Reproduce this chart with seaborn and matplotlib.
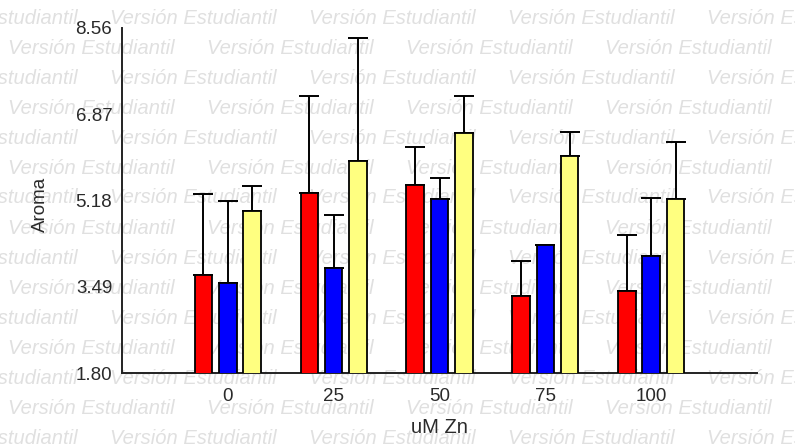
import numpy as np
import pandas as pd
import matplotlib
matplotlib.use("Agg")
import matplotlib.pyplot as plt
import seaborn as sns

# Data
doses = ["0", "25", "50", "75", "100"]
series = ["S1", "S2", "S3"]
red_mean = [3.73, 5.33, 5.49, 3.30, 3.40]
red_err = [1.57, 1.90, 0.74, 0.70, 1.11]
blue_mean = [3.57, 3.86, 5.21, 4.30, 4.10]
blue_err = [1.60, 1.03, 0.41, 0.0, 1.12]
yellow_mean = [4.97, 5.95, 6.51, 6.05, 5.20]
yellow_err = [0.49, 2.41, 0.72, 0.47, 1.12]
yticks = [1.80, 3.49, 5.18, 6.87, 8.56]

colors = ["#ff0000", "#0000ff", "#ffff80"]
means = [red_mean, blue_mean, yellow_mean]
errs = [red_err, blue_err, yellow_err]

df = pd.DataFrame({
    "dose": doses * 3,
    "serie": np.repeat(series, len(doses)),
    "value": red_mean + blue_mean + yellow_mean,
})

sns.set_style("white")
plt.rcParams["font.family"] = ["Liberation Sans", "DejaVu Sans"]

fig = plt.figure(figsize=(7.95, 4.46), dpi=100)
fig.patch.set_facecolor("white")

# watermark rows
wm = "Versión Estudiantil"
for r in range(16):
    y_px = 18 + 30 * r
    x0 = 110 if r % 2 == 0 else 8
    for k in range(-1, 5):
        fig.text((x0 + 199 * k) / 795, 1 - y_px / 446, wm, fontsize=14.5,
                 style="italic", color="#e0e0e0", ha="left", va="center",
                 zorder=-1)

ax = fig.add_axes([122 / 795, 1 - 373 / 446, (757 - 122) / 795, (373 - 28) / 446])
ax.set_facecolor("none")

sns.barplot(data=df, x="dose", y="value", hue="serie", palette=colors,
            saturation=1, order=doses, hue_order=series, errorbar=None,
            width=0.69, gap=0.28, edgecolor="black", linewidth=1.3,
            legend=False, ax=ax, zorder=3)

for cont, m, e in zip(ax.containers, means, errs):
    xs = [b.get_x() + b.get_width() / 2 for b in cont]
    ax.errorbar(xs, m, yerr=[np.zeros(len(e)), e], fmt="none", ecolor="black",
                elinewidth=1.4, capsize=7, capthick=1.4, zorder=2)

ax.set_xlim(-1, 5)
ax.set_ylim(yticks[0], yticks[-1])
ax.set_yticks(yticks)
ax.set_yticklabels([f"{t:.2f}" for t in yticks])
sns.despine(ax=ax)
for s in ["left", "bottom"]:
    ax.spines[s].set_linewidth(1.4)
    ax.spines[s].set_color("#222222")
ax.tick_params(axis="both", direction="out", length=5, width=1.4,
               color="#222222", labelsize=13.5, labelcolor="#2a2a2a")
ax.tick_params(axis="y", pad=2)
ax.tick_params(axis="x", pad=6)
ax.set_xlabel("uM Zn", fontsize=14.5, color="#2a2a2a", labelpad=9)
ax.set_ylabel("Aroma", fontsize=13.5, color="#2a2a2a")
ax.yaxis.set_label_coords(-0.115, 0.49)

fig.savefig("out.png", dpi=100)
